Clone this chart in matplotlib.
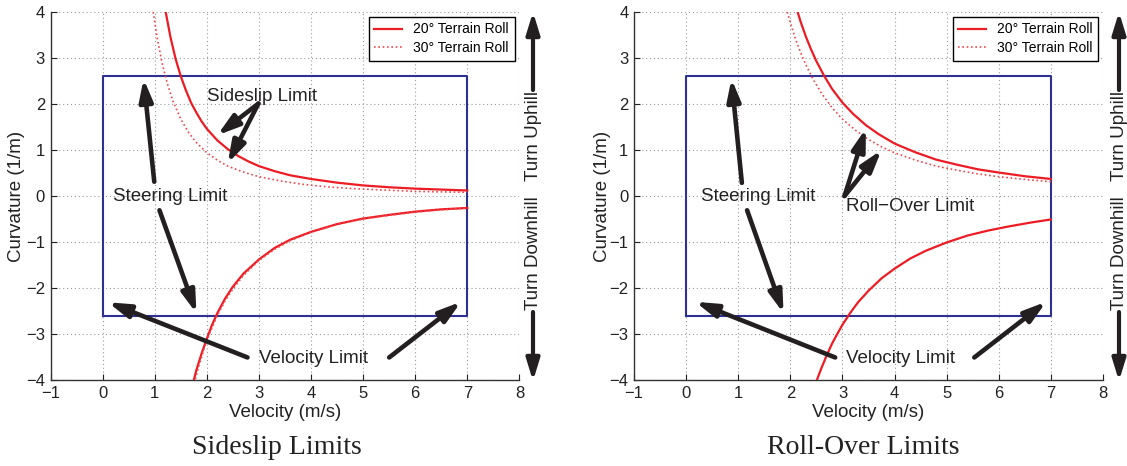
import matplotlib
matplotlib.use("Agg")
import matplotlib.pyplot as plt

plt.rcParams['font.family'] = ['Liberation Sans', 'DejaVu Sans']

# ---------------- data ----------------
vel_limits = [0.0, 7.0]          # m/s
steer_limits = [-2.6, 2.6]       # 1/m

# Sideslip limits
ss20_up_v = [1.21, 1.3, 1.4, 1.5, 1.6, 1.7, 1.8, 1.9, 2.0, 2.2, 2.4, 2.6, 2.8, 3.0, 3.3, 3.6, 4.0, 4.5, 5.0, 5.5, 6.0, 6.5, 7.0]
ss20_up_k = [4.00, 3.46, 2.98, 2.60, 2.29, 2.02, 1.81, 1.62, 1.46, 1.21, 1.02, 0.87, 0.75, 0.65, 0.54, 0.45, 0.37, 0.29, 0.23, 0.19, 0.16, 0.14, 0.12]
ss30_up_v = [0.97, 1.05, 1.15, 1.25, 1.35, 1.5, 1.65, 1.8, 2.0, 2.2, 2.4, 2.7, 3.0, 3.4, 3.8, 4.3, 4.8, 5.4, 6.0, 6.5, 7.0]
ss30_up_k = [4.00, 3.41, 2.84, 2.41, 2.06, 1.67, 1.38, 1.16, 0.94, 0.78, 0.65, 0.52, 0.42, 0.33, 0.26, 0.20, 0.16, 0.13, 0.10, 0.09, 0.08]
ss20_lo_v = [1.75, 1.8, 1.9, 2.0, 2.1, 2.2, 2.35, 2.5, 2.7, 3.0, 3.3, 3.6, 4.0, 4.5, 5.0, 5.5, 6.0, 6.5, 7.0]
ss20_lo_k = [-4.00, -3.78, -3.42, -3.10, -2.80, -2.55, -2.23, -1.97, -1.69, -1.38, -1.13, -0.95, -0.78, -0.61, -0.49, -0.41, -0.34, -0.29, -0.26]
ss30_lo_v = [1.78, 1.85, 1.95, 2.05, 2.2, 2.35, 2.5, 2.7, 3.0, 3.3, 3.6, 4.0, 4.5, 5.0, 5.5, 6.0, 6.5, 7.0]
ss30_lo_k = [-3.98, -3.68, -3.31, -3.00, -2.60, -2.28, -2.02, -1.73, -1.40, -1.16, -0.97, -0.79, -0.62, -0.50, -0.42, -0.35, -0.30, -0.26]

# Roll-over limits
ro20_up_v = [2.14, 2.2, 2.3, 2.4, 2.5, 2.65, 2.8, 3.0, 3.2, 3.45, 3.7, 4.0, 4.4, 4.8, 5.2, 5.6, 6.0, 6.5, 7.0]
ro20_up_k = [4.00, 3.78, 3.46, 3.18, 2.93, 2.61, 2.33, 2.03, 1.79, 1.54, 1.34, 1.14, 0.95, 0.79, 0.68, 0.58, 0.51, 0.43, 0.37]
ro30_up_v = [1.94, 2.0, 2.1, 2.2, 2.3, 2.45, 2.6, 2.8, 3.0, 3.25, 3.5, 3.75, 4.0, 4.4, 4.8, 5.2, 5.6, 6.0, 6.5, 7.0]
ro30_up_k = [4.00, 3.77, 3.41, 3.11, 2.85, 2.51, 2.23, 1.92, 1.67, 1.43, 1.23, 1.07, 0.94, 0.78, 0.65, 0.56, 0.48, 0.42, 0.36, 0.31]
ro20_lo_v = [2.51, 2.6, 2.7, 2.8, 2.9, 3.0, 3.15, 3.3, 3.5, 3.75, 4.0, 4.3, 4.6, 5.0, 5.4, 5.8, 6.2, 6.6, 7.0]
ro20_lo_k = [-4.00, -3.73, -3.46, -3.21, -3.00, -2.80, -2.54, -2.31, -2.06, -1.79, -1.58, -1.36, -1.19, -1.01, -0.86, -0.75, -0.66, -0.58, -0.51]

x_ticks = [-1, 0, 1, 2, 3, 4, 5, 6, 7, 8]
y_ticks = [-4, -3, -2, -1, 0, 1, 2, 3, 4]
legend_labels = ['20\u00b0 Terrain Roll', '30\u00b0 Terrain Roll']
subtitles = ['Sideslip Limits', 'Roll-Over Limits']

# ---------------- style ----------------
RED = '#ed1c24'
DOTRED = '#f0474d'
BLUE = '#2e3192'
ARROW = '#231f20'
W, H = 1127, 466

fig = plt.figure(figsize=(W / 100, H / 100), dpi=100)


def px_axes(x0, x1, y0, y1):
    return fig.add_axes([x0 / W, 1 - y1 / H, (x1 - x0) / W, (y1 - y0) / H])


def style(ax, ylab_x):
    ax.set_xlim(-1, 8)
    ax.set_ylim(-4, 4)
    ax.set_xticks(x_ticks)
    ax.set_yticks(y_ticks)
    for s in ['top', 'right']:
        ax.spines[s].set_visible(False)
    for s in ['left', 'bottom']:
        ax.spines[s].set_color('#333333')
        ax.spines[s].set_linewidth(1.0)
    ax.tick_params(direction='in', length=4, width=0.8, labelsize=12, pad=4, colors='#222222')
    ax.grid(True, linestyle=(0, (1, 2.5)), color='#9a9a9a', linewidth=0.8)
    ax.set_axisbelow(True)
    ax.set_xlabel('Velocity (m/s)', fontsize=13.5, va='center', color='#222222')
    ax.xaxis.set_label_coords(0.5, -0.087)
    ax.set_ylabel('Curvature (1/m)', fontsize=13.5, va='center', color='#222222')
    ax.yaxis.set_label_coords(ylab_x, 0.5)
    # limits box
    bx = [vel_limits[0], vel_limits[1], vel_limits[1], vel_limits[0], vel_limits[0]]
    by = [steer_limits[0], steer_limits[0], steer_limits[1], steer_limits[1], steer_limits[0]]
    ax.plot(bx, by, color=BLUE, lw=1.5, zorder=3)


def arrow(ax, tail, tip, coords='data', lw=3.3):
    ax.annotate('', xy=tip, xytext=tail, xycoords=coords, textcoords=coords,
                annotation_clip=False,
                arrowprops=dict(arrowstyle='-|>,head_length=0.65,head_width=0.2',
                                mutation_scale=20, lw=lw, color=ARROW,
                                shrinkA=0, shrinkB=0), zorder=6)


def note(ax, x, y, s):
    ax.text(x, y, s, fontsize=13.5, ha='left', va='center', color='#222222', zorder=7)


DOT = (0, (1, 1.6))


def add_legend(ax, handles):
    lg = ax.legend(handles, legend_labels, loc='upper right', fontsize=10,
                   fancybox=False, framealpha=1, edgecolor='black',
                   borderaxespad=0.35, handlelength=2.0, handletextpad=0.8,
                   borderpad=0.4, labelspacing=0.35)
    lg.get_frame().set_linewidth(1.0)
    return lg


# ---------------- left: sideslip ----------------
ax1 = px_axes(50.6, 519.4, 12, 380)
style(ax1, -0.0717)
l1, = ax1.plot(ss20_up_v, ss20_up_k, color=RED, lw=1.6, zorder=4)
ax1.plot(ss20_lo_v, ss20_lo_k, color=RED, lw=1.6, zorder=4)
l2, = ax1.plot(ss30_up_v, ss30_up_k, color=DOTRED, lw=1.2, ls=DOT, zorder=4)
ax1.plot(ss30_lo_v, ss30_lo_k, color=DOTRED, lw=1.2, ls=DOT, zorder=4)
add_legend(ax1, [l1, l2])
note(ax1, 2.0, 2.17, 'Sideslip Limit')
arrow(ax1, (2.99, 2.01), (2.20, 1.32))
arrow(ax1, (2.99, 2.01), (2.40, 0.71))
note(ax1, 0.2, -0.02, 'Steering Limit')
arrow(ax1, (0.99, 0.31), (0.785, 2.55))
arrow(ax1, (1.09, -0.31), (1.80, -2.55))
note(ax1, 3.0, -3.53, 'Velocity Limit')
arrow(ax1, (2.78, -3.51), (0.10, -2.31))
arrow(ax1, (5.50, -3.51), (6.88, -2.30))

# ---------------- right: roll-over ----------------
ax2 = px_axes(634, 1103, 12, 380)
style(ax2, -0.068)
r1, = ax2.plot(ro20_up_v, ro20_up_k, color=RED, lw=1.6, zorder=4)
ax2.plot(ro20_lo_v, ro20_lo_k, color=RED, lw=1.6, zorder=4)
r2, = ax2.plot(ro30_up_v, ro30_up_k, color=DOTRED, lw=1.2, ls=DOT, zorder=4)
add_legend(ax2, [r1, r2])
note(ax2, 0.277, -0.02, 'Steering Limit')
arrow(ax2, (1.07, 0.285), (0.87, 2.55))
arrow(ax2, (1.17, -0.31), (1.87, -2.55))
note(ax2, 3.06, -0.22, 'Roll\u2212Over Limit')
arrow(ax2, (3.04, 0.0), (3.45, 1.47))
arrow(ax2, (3.04, 0.0), (3.75, 1.00))
note(ax2, 3.06, -3.53, 'Velocity Limit')
arrow(ax2, (2.86, -3.51), (0.175, -2.30))
arrow(ax2, (5.53, -3.51), (6.91, -2.30))

# ---------------- turn direction indicators ----------------
for xc in [533, 1119]:
    xf = xc / W
    arrow(ax1, (xf, 1 - 90 / H), (xf, 1 - 12 / H), coords='figure fraction', lw=3.0)
    arrow(ax1, (xf, 1 - 312 / H), (xf, 1 - 381 / H), coords='figure fraction', lw=3.0)
    fig.text(xf, 1 - 201 / H, 'Turn Downhill   Turn Uphill', rotation=90,
             ha='center', va='center', fontsize=13.5, color='#222222')

# ---------------- subtitles ----------------
fig.text(276.6 / W, 1 - 448 / H, subtitles[0], ha='center', va='center',
         fontsize=20, family=['Liberation Serif', 'DejaVu Serif'], color='#222222')
fig.text(863.5 / W, 1 - 448 / H, subtitles[1], ha='center', va='center',
         fontsize=20, family=['Liberation Serif', 'DejaVu Serif'], color='#222222')

fig.savefig('out.png', dpi=100)
